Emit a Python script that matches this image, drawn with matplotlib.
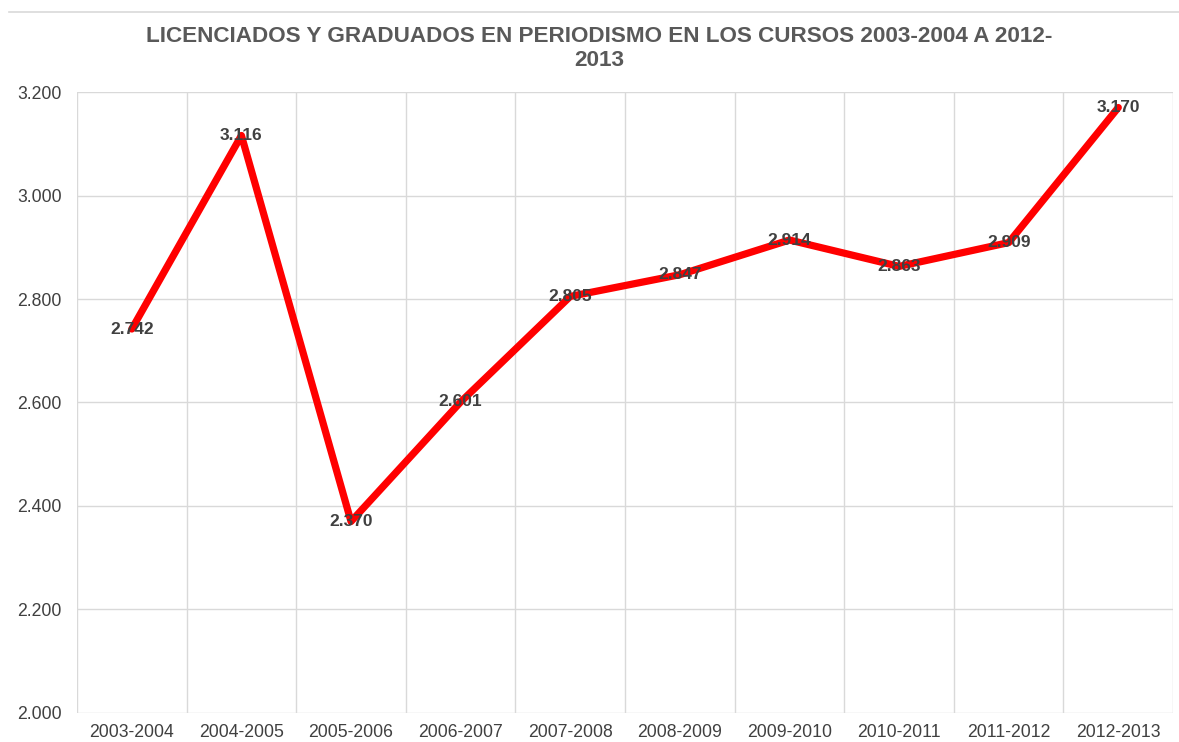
import numpy as np
import matplotlib.pyplot as plt
from matplotlib.ticker import FuncFormatter
from matplotlib.lines import Line2D

plt.rcParams['font.family'] = ['Liberation Sans', 'DejaVu Sans']

# datos
cursos = ["2003-2004", "2004-2005", "2005-2006", "2006-2007", "2007-2008",
          "2008-2009", "2009-2010", "2010-2011", "2011-2012", "2012-2013"]
titulados = [2742, 3116, 2370, 2601, 2805, 2847, 2914, 2863, 2909, 3170]
y_ticks = [2000, 2200, 2400, 2600, 2800, 3000, 3200]

def miles(v, pos=None):
    return f"{int(v):,}".replace(",", ".")

fig = plt.figure(figsize=(11.79, 7.42), dpi=100)
ax = fig.add_axes([0.0653, 0.0391, 0.9297, 0.8369])

x = np.arange(len(cursos))
ax.plot(x, titulados, color='#ff0000', linewidth=5.2, solid_capstyle='round',
        solid_joinstyle='round', zorder=3)

for xi, v in zip(x, titulados):
    ax.text(xi, v, miles(v), ha='center', va='center', fontsize=12.5,
            fontweight='bold', color='#404040', zorder=4)

ax.set_xlim(-0.5, len(cursos) - 0.5)
ax.set_ylim(2000, 3200)
ax.set_yticks(y_ticks)
ax.yaxis.set_major_formatter(FuncFormatter(miles))
ax.set_xticks(x)
ax.set_xticklabels(cursos)
ax.set_xticks(np.arange(-0.5, len(cursos)), minor=True)

ax.grid(axis='y', which='major', color='#d9d9d9', linewidth=1)
ax.grid(axis='x', which='minor', color='#d9d9d9', linewidth=1)
ax.grid(axis='x', which='major', visible=False)
ax.tick_params(axis='both', which='both', length=0, labelsize=12.7, colors='#404040')
ax.tick_params(axis='y', pad=11)
ax.tick_params(axis='x', pad=8)
for s in ax.spines.values():
    s.set_visible(False)

fig.text(0.508, 0.935, "LICENCIADOS Y GRADUADOS EN PERIODISMO EN LOS CURSOS 2003-2004 A 2012-\n2013",
         ha='center', va='center', fontsize=16.2, fontweight='bold', color='#595959',
         linespacing=1.2)

fig.add_artist(Line2D([0.008, 1.0], [0.984, 0.984], color='#d9d9d9', linewidth=1.2,
                      transform=fig.transFigure))

fig.savefig('out.png', dpi=100)
